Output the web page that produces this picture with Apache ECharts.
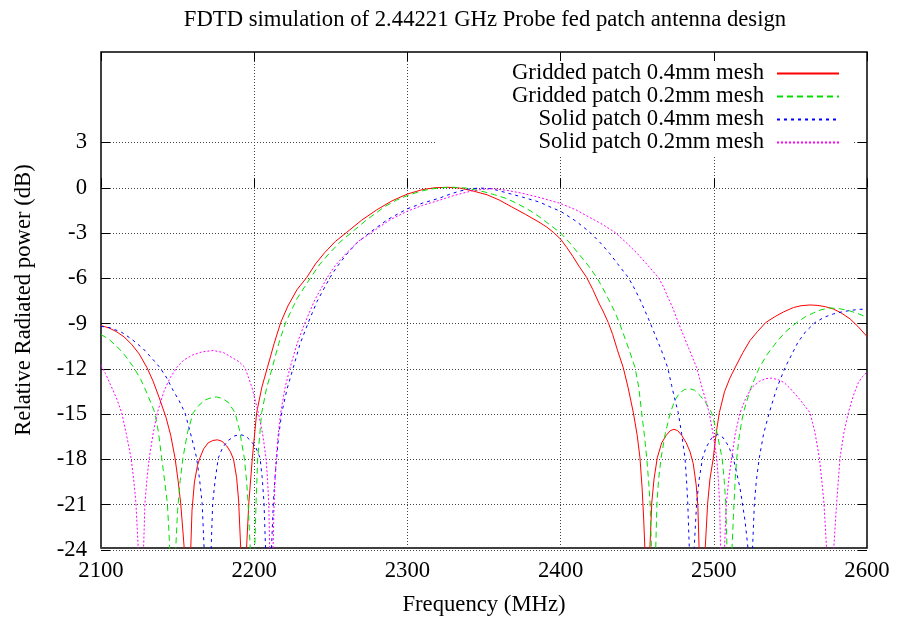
<!DOCTYPE html>
<html><head><meta charset="utf-8">
<script src="https://cdn.jsdelivr.net/npm/echarts@6/dist/echarts.min.js"></script>
<style>html,body{margin:0;padding:0;background:#fff}#c{width:900px;height:622px}</style>
</head><body><div id="c"></div>
<script>
const titleText = 'FDTD simulation of 2.44221 GHz Probe fed patch antenna design';
const xAxisName = 'Frequency (MHz)';
const yAxisName = 'Relative Radiated power (dB)';
const xTicks = [2100, 2200, 2300, 2400, 2500, 2600];
const yTicks = [-24, -21, -18, -15, -12, -9, -6, -3, 0, 3];
const yTop = 9;
const seriesNames = ['Gridded patch 0.4mm mesh', 'Gridded patch 0.2mm mesh', 'Solid patch 0.4mm mesh', 'Solid patch 0.2mm mesh'];

// [frequency MHz, relative power dB]; nulls read as deep values below the axis floor
const gridded04 = [[2100,-9.2],[2105,-9.35],[2110,-9.6],[2115,-9.95],[2120,-10.45],[2125,-11.1],[2130,-12.0],[2134,-12.9],[2138,-14.0],[2142.4,-15.3],[2145.5,-16.5],[2148.3,-18],[2150.3,-19.5],[2152,-21],[2153.4,-22.8],[2154.3,-24],[2156.6,-60],[2158.6,-24],[2159.4,-21.5],[2161,-19.6],[2163,-18.5],[2164.6,-18],[2167,-17.4],[2170,-17.0],[2173,-16.85],[2176,-16.8],[2179,-16.9],[2182,-17.2],[2184.5,-17.6],[2186.5,-18.1],[2188.5,-19.3],[2189.8,-20.8],[2191.2,-24],[2193.2,-60],[2195,-24],[2196.5,-21],[2198.8,-18],[2201.6,-15],[2205,-13.3],[2208.6,-12],[2213,-10.4],[2217.3,-9],[2222,-7.9],[2228,-6.8],[2234.3,-6],[2240,-5.1],[2246,-4.35],[2253,-3.6],[2260.4,-3],[2270,-2.2],[2280,-1.5],[2290,-0.9],[2300,-0.45],[2310,-0.15],[2318,-0.03],[2326,0],[2334,-0.05],[2343,-0.25],[2352,-0.5],[2360,-0.85],[2368,-1.3],[2377,-1.8],[2386.6,-2.36],[2391,-2.65],[2395.3,-3],[2400,-3.45],[2404,-4.0],[2408,-4.6],[2412,-5.25],[2417,-6],[2421,-6.8],[2425,-7.7],[2428,-8.3],[2431.1,-9],[2434,-9.8],[2437,-10.8],[2440.9,-12],[2444,-13.3],[2447.5,-15],[2450,-16.5],[2451.8,-18],[2453.2,-20],[2454.2,-22],[2455,-24],[2456.6,-60],[2458.3,-24],[2459.5,-21],[2461,-19.4],[2463.1,-18],[2466,-17],[2469,-16.5],[2471.5,-16.2],[2474,-16.1],[2476.5,-16.2],[2479,-16.5],[2482,-17],[2484.5,-17.6],[2486.6,-18.4],[2488.5,-19.8],[2489.6,-21.2],[2490.4,-24],[2492.3,-60],[2494.4,-24],[2496,-21],[2497.5,-19.4],[2499.7,-18],[2501.5,-16.4],[2503.6,-15],[2507,-13.6],[2510.5,-12.7],[2514.4,-11.9],[2519,-11],[2523.6,-10.2],[2528.5,-9.6],[2533.9,-9],[2540,-8.6],[2545.4,-8.3],[2552,-8.0],[2557,-7.88],[2562.8,-7.83],[2568,-7.86],[2573,-7.95],[2578,-8.1],[2583,-8.35],[2589,-8.76],[2594,-9.25],[2600,-9.93]];
const gridded02 = [[2100,-9.8],[2105,-10.1],[2110,-10.55],[2115,-11.1],[2121.5,-12],[2126,-12.8],[2130,-13.7],[2135.2,-15],[2137.5,-16.3],[2139.6,-18],[2141.5,-19.5],[2143.3,-21],[2144.4,-23],[2144.8,-24],[2147,-60],[2148.8,-24],[2150,-21.5],[2151.7,-19.5],[2153.5,-18],[2156.5,-16.3],[2160.2,-15],[2164,-14.5],[2168,-14.15],[2172,-14.0],[2175.5,-13.95],[2179,-14.05],[2183,-14.3],[2187.5,-15],[2190.5,-16.2],[2193.5,-18],[2195,-19.5],[2196,-21],[2197.4,-24],[2199,-60],[2200.4,-24],[2201.2,-21],[2202.3,-18],[2204.9,-15],[2208,-13.4],[2211.8,-12],[2216,-10.4],[2220.5,-9],[2228,-7.4],[2236.9,-6],[2243,-5.1],[2249,-4.4],[2256,-3.65],[2263.6,-3],[2273,-2.2],[2285,-1.3],[2293,-0.85],[2300,-0.55],[2308,-0.28],[2315,-0.12],[2322,-0.03],[2330,0],[2338,-0.05],[2350,-0.3],[2357,-0.5],[2364.8,-0.75],[2372,-1.1],[2380,-1.55],[2386.6,-2.0],[2393,-2.5],[2399.6,-3],[2406,-3.7],[2412,-4.45],[2418,-5.2],[2423.6,-6],[2427.5,-6.7],[2431,-7.4],[2435,-8.2],[2438.3,-9],[2441.5,-9.9],[2445,-10.9],[2448.6,-12],[2451,-13.3],[2452.9,-15],[2454.7,-16.5],[2456.2,-18],[2457.5,-19.6],[2458.4,-21],[2459.3,-24],[2460.7,-60],[2462.1,-24],[2462.9,-21],[2464,-19.4],[2465.6,-18],[2468.3,-16.4],[2471.6,-15],[2474.5,-14.2],[2477.5,-13.7],[2481,-13.45],[2484,-13.4],[2487.5,-13.5],[2491,-13.85],[2494.5,-14.3],[2498.6,-15],[2502,-16.3],[2505.4,-18],[2506.8,-19.5],[2507.8,-21],[2508.6,-24],[2510.3,-60],[2511.9,-24],[2513.2,-21],[2514,-19.4],[2515,-18],[2516.8,-16.4],[2519.3,-15],[2524,-13.4],[2529.7,-12],[2535,-11.1],[2541,-10.3],[2547,-9.6],[2554.1,-9],[2560,-8.6],[2565,-8.36],[2570,-8.15],[2575.8,-8.03],[2582,-8.08],[2588,-8.2],[2594,-8.4],[2600,-8.65]];
const solid04 = [[2100,-9.25],[2106,-9.35],[2113.5,-9.65],[2120,-10.1],[2127.6,-10.75],[2133,-11.35],[2138.5,-12],[2143,-12.7],[2147,-13.5],[2151,-14.2],[2154.8,-15],[2158,-16.2],[2160.5,-17.2],[2162.4,-18],[2164.3,-19.4],[2166,-21],[2167.3,-24],[2169.6,-60],[2171.9,-24],[2172.9,-21],[2174.5,-19.5],[2176.6,-18],[2179.5,-17.3],[2183,-16.85],[2187,-16.55],[2190.7,-16.45],[2194.5,-16.55],[2198,-16.9],[2201,-17.3],[2203.8,-18],[2205.2,-19.3],[2206.4,-21],[2207.4,-24],[2209.3,-60],[2211.3,-24],[2212.5,-21],[2213.5,-19.4],[2214.7,-18],[2216,-16.5],[2218,-15],[2221.5,-13.4],[2225.5,-12],[2230,-10.4],[2235.3,-9],[2241,-7.6],[2249.5,-6],[2254,-5.3],[2260,-4.5],[2267,-3.7],[2275.6,-3],[2287,-2.15],[2300,-1.43],[2310,-1.05],[2321,-0.72],[2328,-0.45],[2334,-0.26],[2340,-0.12],[2347,-0.05],[2355,-0.1],[2364.8,-0.37],[2375,-0.65],[2386.6,-1.0],[2393,-1.3],[2400,-1.6],[2410,-2.25],[2419.2,-3],[2426,-3.7],[2432,-4.4],[2438,-5.2],[2444.2,-6],[2448,-6.7],[2451.5,-7.4],[2455,-8.2],[2458.4,-9],[2462,-9.9],[2466,-10.9],[2469.9,-12],[2472.5,-13.2],[2474.8,-14.2],[2476.8,-15],[2479,-16.4],[2481.2,-18],[2482.2,-19.5],[2483,-21],[2484,-24],[2485.5,-60],[2487.2,-24],[2488.8,-21],[2490.5,-19.4],[2492.7,-18],[2495,-17.3],[2498.5,-16.7],[2502.5,-16.45],[2506,-16.65],[2509.5,-17.2],[2512.7,-18],[2517.1,-20],[2520.4,-22.2],[2522.3,-24],[2523.8,-60],[2525.3,-24],[2526.5,-21],[2527.8,-19.5],[2529.7,-18],[2532.5,-16.4],[2536.2,-15],[2541,-13.4],[2546.5,-12],[2551,-11.1],[2555,-10.3],[2560,-9.6],[2566.1,-9],[2572,-8.65],[2578,-8.43],[2584,-8.28],[2589,-8.2],[2594,-8.13],[2600,-8.1]];
const solid02 = [[2100,-11.85],[2103,-12.4],[2106,-13.1],[2110,-14.0],[2113.5,-15],[2116.5,-16.4],[2119.6,-18],[2121.3,-19.4],[2122.8,-21],[2124.3,-24],[2126,-60],[2127.8,-24],[2128.7,-21],[2130,-19.4],[2131.5,-18],[2134,-16.4],[2136.8,-15],[2141,-13.6],[2145,-12.7],[2149.4,-12],[2154,-11.5],[2160,-11.15],[2166,-10.95],[2173.3,-10.86],[2180,-11.0],[2185,-11.3],[2190,-11.6],[2194,-12],[2198.5,-13.3],[2202.7,-15],[2205.5,-16.4],[2207.7,-18],[2208.7,-19.4],[2209.5,-21],[2210.1,-24],[2211.2,-60],[2212.3,-24],[2213,-21],[2213.6,-19.5],[2214.4,-18],[2215.7,-16.4],[2217.3,-15],[2220,-13.4],[2223.4,-12],[2228,-10.4],[2233.2,-9],[2239.5,-7.5],[2247.7,-6],[2253,-5.2],[2260,-4.4],[2268,-3.6],[2276.7,-3],[2288,-2.2],[2300,-1.59],[2310,-1.2],[2321,-0.86],[2328,-0.62],[2334,-0.45],[2343,-0.22],[2350,-0.13],[2356,-0.1],[2364.8,-0.2],[2375,-0.4],[2387,-0.7],[2400,-1.08],[2410,-1.5],[2418,-1.95],[2427,-2.45],[2435.5,-3],[2443,-3.7],[2450,-4.4],[2457,-5.2],[2463.8,-6],[2467,-6.6],[2470,-7.3],[2473.5,-8.1],[2476.8,-9],[2480,-9.8],[2484,-10.8],[2488.8,-12],[2492,-13.2],[2494.5,-14.1],[2497,-15],[2499.5,-16.4],[2501.9,-18],[2503,-19.5],[2503.8,-21],[2504.4,-24],[2505.6,-60],[2507,-24],[2508.2,-21],[2509.8,-19.4],[2511.7,-18],[2514,-16.4],[2517.1,-15],[2521,-14],[2525,-13.3],[2530,-12.9],[2534,-12.73],[2537.8,-12.7],[2542,-12.8],[2546,-13.0],[2550,-13.4],[2556,-14.1],[2562.8,-15],[2566,-16.3],[2568.9,-18],[2570.5,-19.5],[2571.9,-21],[2573.6,-24],[2575.8,-60],[2578.3,-24],[2580.2,-21],[2582.4,-18],[2584.8,-16.4],[2587.8,-15],[2591,-13.9],[2594.3,-13],[2597,-12.6],[2600,-12.3]];

const seriesData = [gridded04, gridded02, solid04, solid02];
const seriesColors = ['#ff0000', '#00e000', '#0000ff', '#ff00ff'];
const seriesDash = ['solid', [6, 4], [3, 4], [2, 2]];

const FONT = 'Liberation Serif';
const txt = { fontFamily: FONT, fontSize: 22.7, color: '#000' };
const gridLine = { show: true, lineStyle: { color: '#444', width: 1, type: [1, 2] } };
const tickIn = { show: true, inside: true, length: 9, lineStyle: { color: '#000', width: 1 } };
const plainNum = v => String(v);

const xMin = xTicks[0], xMax = xTicks[xTicks.length - 1], xStep = xTicks[1] - xTicks[0];
const yMin = yTicks[0], yMax = yTicks[yTicks.length - 1], yStep = yTicks[1] - yTicks[0];

const chart = echarts.init(document.getElementById('c'), null, { renderer: 'canvas' });
chart.setOption({
  animation: false,
  backgroundColor: '#fff',
  title: { text: titleText, left: 480, textAlign: 'center', top: 4, textStyle: Object.assign({ fontWeight: 'normal' }, txt) },
  legend: {
    orient: 'vertical', align: 'right', right: 47, top: 53,
    padding: [9, 13, 2, 75], backgroundColor: '#fff',
    itemWidth: 62, itemHeight: 12, itemGap: 0,
    itemStyle: { opacity: 0 },
    textStyle: Object.assign({ lineHeight: 22, padding: [0, 8, 0, 0] }, txt),
    data: seriesNames
  },
  grid: [
    { left: 101, right: 33, top: 52, bottom: 72, show: true, borderColor: '#000', borderWidth: 1.5, backgroundColor: 'transparent' },
    { left: 101, right: 33, top: 142.5, bottom: 72, show: false }
  ],
  xAxis: [
    { gridIndex: 0, type: 'value', min: xMin, max: xMax, interval: xStep, position: 'bottom',
      name: xAxisName, nameLocation: 'middle', nameGap: 46, nameTextStyle: txt,
      axisLine: { show: false }, axisTick: tickIn, axisLabel: Object.assign({ margin: 12, formatter: plainNum }, txt), splitLine: gridLine },
    { gridIndex: 0, type: 'value', min: xMin, max: xMax, interval: xStep, position: 'top', z: 6,
      axisLine: { show: false }, axisTick: tickIn, axisLabel: { show: false }, splitLine: { show: false } },
    { gridIndex: 1, type: 'value', min: xMin, max: xMax, show: false }
  ],
  yAxis: [
    { gridIndex: 0, type: 'value', min: yMin, max: yTop, position: 'left',
      name: yAxisName, nameLocation: 'middle', nameGap: 65, nameTextStyle: txt,
      axisLine: { show: false }, axisTick: { show: false }, axisLabel: { show: false }, splitLine: { show: false } },
    { gridIndex: 1, type: 'value', min: yMin, max: yMax, interval: yStep, position: 'left',
      axisLine: { show: false }, axisTick: tickIn, axisLabel: Object.assign({ margin: 14, formatter: plainNum }, txt), splitLine: gridLine },
    { gridIndex: 1, type: 'value', min: yMin, max: yMax, interval: yStep, position: 'right', z: 6,
      axisLine: { show: false }, axisTick: tickIn, axisLabel: { show: false }, splitLine: { show: false } }
  ],
  series: seriesData.map((d, i) => ({
    name: seriesNames[i], type: 'line', xAxisIndex: 0, yAxisIndex: 0,
    data: d, symbol: 'none', showSymbol: false, smooth: false, clip: true,
    lineStyle: { color: seriesColors[i], width: 1, type: seriesDash[i] },
    itemStyle: { color: seriesColors[i] }
  }))
});
</script></body></html>
